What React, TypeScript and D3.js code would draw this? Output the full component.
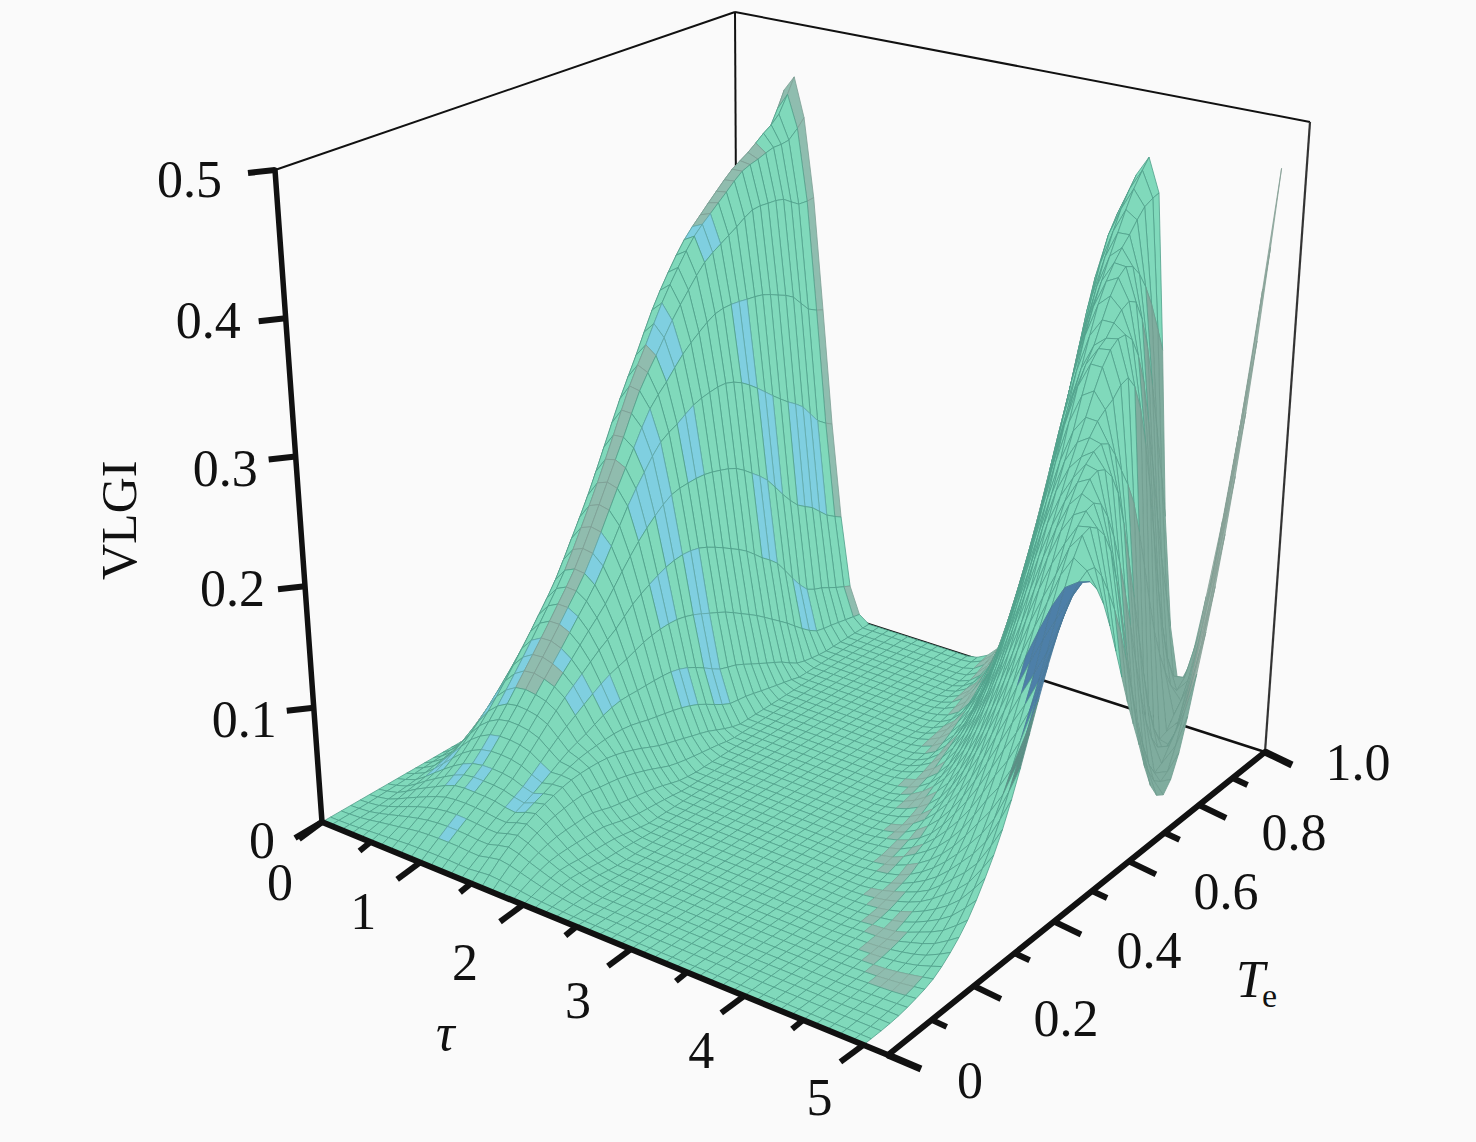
import React from "react";
import * as d3 from "d3";

const tauTicks = [0, 1, 2, 3, 4, 5];
const teTicks = [0, 0.2, 0.4, 0.6, 0.8, 1.0];
const teTickLabels = ["0", "0.2", "0.4", "0.6", "0.8", "1.0"];
const zTicks = [0, 0.1, 0.2, 0.3, 0.4, 0.5];
const zTickLabels = ["0", "0.1", "0.2", "0.3", "0.4", "0.5"];

const teGrid = [0,.04,.08,.12,.16,.2,.24,.28,.32,.36,.4,.44,.48,.52,.56,.6,.64,.68,.72,.76,.8,.84,.88,.92,.96,1];
const tauGrid = [0,.2,.4,.6,.8,1,1.2,1.4,1.6,1.8,2,2.2,2.4,2.6,2.8,3,3.2,3.4,3.6,3.8,4,4.2,4.4,4.6,4.8,5];

const r00 = [0,0,0,0,0,0,0,0,0,0,0,0,0,0,0,0,0,0,0,0,0,0,0,0,0,0];
const r02 = [0,.001,.002,.004,.006,.009,.012,.016,.021,.026,.032,.039,.048,.057,.066,.076,.086,.095,.104,.111,.119,.126,.133,.141,.147,.158];
const r04 = [0,.004,.008,.014,.019,.027,.037,.049,.062,.077,.093,.115,.138,.162,.188,.211,.235,.255,.277,.295,.312,.329,.343,.359,.372,.396];
const r06 = [0,.007,.015,.023,.032,.046,.062,.08,.1,.121,.143,.171,.2,.233,.266,.295,.325,.349,.369,.383,.396,.408,.416,.426,.436,.46];
const r08 = [0,.01,.02,.031,.041,.057,.075,.095,.115,.136,.158,.186,.216,.246,.277,.299,.321,.339,.355,.364,.372,.38,.38,.378,.369,.369];
const r10 = [0,.011,.022,.032,.043,.059,.076,.094,.112,.131,.15,.175,.201,.222,.24,.248,.257,.261,.262,.256,.245,.232,.22,.209,.19,.18];
const r12 = [0,.011,.021,.031,.041,.055,.07,.084,.096,.108,.118,.131,.14,.147,.15,.148,.141,.132,.122,.108,.095,.073,.054,.047,.039,.032];
const r14 = [0,.01,.02,.028,.035,.044,.053,.059,.066,.07,.07,.07,.069,.064,.055,.045,.04,.032,.024,.016,.006,.002,0,0,0,0];
const r16 = [0,.014,.025,.034,.04,.044,.045,.044,.04,.034,.027,.022,.017,.012,.005,0,0,0,0,0,0,0,0,0,0,0];
const r18 = [0,.01,.017,.021,.022,.022,.017,.014,.011,.007,.002,0,0,0,0,0,0,0,0,0,0,0,0,0,0,0];
const r20 = [0,.005,.009,.008,.007,.006,.003,0,0,0,0,0,0,0,0,0,0,0,0,0,0,0,0,0,0,0];
const r22 = [0,.002,.003,.002,0,0,0,0,0,0,0,0,0,0,0,0,0,0,0,0,0,0,0,0,0,0];
const r24 = [0,0,0,0,0,0,0,0,0,0,0,0,0,0,0,0,0,0,0,0,0,0,0,0,0,0];
const r26 = [0,0,0,0,0,0,0,0,0,0,0,0,0,0,0,0,0,0,0,0,0,0,0,0,.003,.007];
const r28 = [0,0,0,0,0,0,0,0,0,0,0,0,0,0,0,0,0,0,0,0,.002,.0045,.008,.012,.022,.034];
const r30 = [0,0,0,0,0,0,0,0,0,0,0,0,0,0,0,0,0,.001,.004,.007,.011,.022,.033,.046,.067,.095];
const r32 = [0,0,0,0,0,0,0,0,0,0,0,0,0,0,0,.003,.006,.009,.017,.028,.04,.06,.087,.114,.149,.191];
const r34 = [0,0,0,0,0,0,0,0,0,0,0,0,.001,.003,.006,.011,.02,.031,.045,.068,.095,.127,.166,.209,.255,.3];
const r36 = [0,0,0,0,0,0,0,0,0,0,.001,.003,.005,.011,.02,.03,.048,.07,.096,.132,.171,.215,.261,.315,.365,.385];
const r38 = [0,0,0,0,0,0,0,0,0,.002,.004,.009,.017,.027,.044,.066,.092,.127,.165,.209,.256,.308,.35,.39,.42,.44];
const r40 = [0,0,0,0,0,0,0,.001,.003,.006,.014,.022,.038,.057,.081,.115,.151,.193,.24,.291,.328,.37,.395,.41,.425,.43];
const r42 = [0,0,0,0,0,.001,.002,.004,.009,.016,.028,.046,.067,.097,.131,.17,.215,.259,.298,.342,.355,.37,.37,.33,.26,.18];
const r44 = [0,0,0,0,.001,.002,.004,.01,.018,.032,.05,.076,.108,.143,.184,.227,.263,.29,.31,.32,.33,.3,.23,.14,.07,.035];
const r46 = [0,0,0,.001,.002,.005,.011,.02,.035,.054,.081,.113,.149,.191,.227,.265,.285,.285,.26,.2,.13,.06,.02,.033,.056,.122];
const r48 = [0,0,.001,.002,.005,.01,.02,.035,.055,.082,.113,.15,.188,.23,.262,.26,.235,.175,.105,.05,.015,.03,.055,.116,.186,.27];
const r50 = [0,0,.001,.004,.009,.02,.036,.06,.09,.13,.175,.215,.24,.24,.215,.17,.12,.075,.03,.012,.04,.1,.166,.248,.346,.465];
const vlgi = [r00,r02,r04,r06,r08,r10,r12,r14,r16,r18,r20,r22,r24,r26,r28,r30,r32,r34,r36,r38,r40,r42,r44,r46,r48,r50];

type P = [number, number];
function quad(p0: P, p1: P, p2: P, p3: P) {
  const dx1 = p1[0] - p2[0], dx2 = p3[0] - p2[0], sx = p0[0] - p1[0] + p2[0] - p3[0];
  const dy1 = p1[1] - p2[1], dy2 = p3[1] - p2[1], sy = p0[1] - p1[1] + p2[1] - p3[1];
  const den = dx1 * dy2 - dx2 * dy1;
  const g = (sx * dy2 - dx2 * sy) / den;
  const h = (dx1 * sy - sx * dy1) / den;
  const a = p1[0] - p0[0] + g * p1[0], b = p3[0] - p0[0] + h * p3[0], c = p0[0];
  const d = p1[1] - p0[1] + g * p1[1], e = p3[1] - p0[1] + h * p3[1], f = p0[1];
  return (u: number, v: number): P => {
    const w = g * u + h * v + 1;
    return [(a * u + b * v + c) / w, (d * u + e * v + f) / w];
  };
}
const A: P = [322, 822], B: P = [888, 1055], C: P = [1265, 752], D: P = [738, 582];
const A2: P = [275, 170], B2: P = [901, 330], C2: P = [1310, 122], D2: P = [735, 12];
const floor = quad(A, B, C, D);
const top = quad(A2, B2, C2, D2);
const tauScale = d3.scaleLinear().domain([0, 5.2]).range([0, 1]);
const teScale = d3.scaleLinear().domain([0, 1]).range([0, 1]);
const zScale = d3.scaleLinear().domain([0, 0.5]).range([0, 1]);
function project(tau: number, te: number, z: number): P {
  const u = tauScale(tau), v = teScale(te);
  const f = zScale(z);
  const s = (f * 0.85) / (1 - 0.15 * f);
  const a = floor(u, v), b = top(u, v);
  return [a[0] + (b[0] - a[0]) * s, a[1] + (b[1] - a[1]) * s];
}

// smooth drawing of the read mesh: a Catmull-Rom curve through each row and column
function smooth(vals: number[]): number[] {
  const out: number[] = [];
  for (let i = 0; i < vals.length - 1; i++) {
    const p0 = vals[Math.max(i - 1, 0)], p1 = vals[i], p2 = vals[i + 1], p3 = vals[Math.min(i + 2, vals.length - 1)];
    out.push(p1, Math.max(0, (-p0 + 9 * p1 + 9 * p2 - p3) / 16));
  }
  out.push(vals[vals.length - 1]);
  return out;
}
const meshByTe: number[][] = vlgi.map(smooth);
const meshCols = d3.range(meshByTe[0].length).map((j) => smooth(meshByTe.map((r) => r[j])));
const fineTau = smooth(tauGrid);
const fineTe = smooth(teGrid);
const zAt = (i: number, j: number) => meshCols[j][i];

// fixed mottling of the facet colours, as in the printed figure
function mottle(i: number, j: number) {
  const s = Math.sin(i * 12.9898 + j * 78.233) * 43758.5453;
  return s - Math.floor(s);
}

const path = d3.line();
function Cells() {
  const out: React.ReactNode[] = [];
  for (let j = fineTe.length - 2; j >= 0; j--) {
    for (let i = 0; i < fineTau.length - 1; i++) {
      const t = fineTau[i], e = fineTe[j];
      const pts: P[] = [
        project(fineTau[i], fineTe[j], zAt(i, j)),
        project(fineTau[i + 1], fineTe[j], zAt(i + 1, j)),
        project(fineTau[i + 1], fineTe[j + 1], zAt(i + 1, j + 1)),
        project(fineTau[i], fineTe[j + 1], zAt(i, j + 1)),
      ];
      const area = d3.polygonArea(pts);
      const back = area < 0;
      const mag = Math.abs(area);
      const zMid = (zAt(i, j) + zAt(i + 1, j + 1)) / 2;
      const fall = zAt(i, j) - zAt(i + 1, j);
      const u = t * (1 + e);
      const m = mottle(i, Math.floor(j / 2));
      let fill = "#80d9bb";
      let stroke = "#4f9f8a";
      if (t >= 4.5 && e >= 0.4 && e < 0.52 && zMid > 0.15) {
        fill = "#4d7fa8"; stroke = "#4a7a9a";
      } else if (t >= 4.5 && e >= 0.34 && e < 0.4 && zMid > 0.11) {
        fill = "#5b8f85"; stroke = "#5b8f85";
      } else if (back) {
        fill = "#7aa899"; stroke = "#6a9a8e";
      } else if (mag < 10) {
        fill = "#8cb8aa"; stroke = "#86ad9f";
      } else if (u >= 9 && e >= 0.72) {
        fill = "#9ab5ab"; stroke = "#87a096";
      } else if (u >= 7.95 && e >= 0.55) {
        fill = "#7fac9e"; stroke = "#6f9c8e";
      } else if (Math.abs(fall) < 0.004 && zMid > 0.09 && e > 0.25 && t < 1.2) {
        fill = "#90bcae"; stroke = "#7f9f95";
      } else if (t >= 2.4 && u >= 5.05 && u < 5.5 && e > 0.1 && m < 0.6) {
        fill = "#8fbdaf"; stroke = "#80a89b";
      } else if (e >= 0.97 && zMid > 0.01 && t < 1.5 && m < 0.6) {
        fill = "#8fbdaf"; stroke = "#7f9f95";
      } else if (zMid > 0.012 && t >= 0.3 && t < 1.6 && e < 0.96 && m < 0.17) {
        fill = "#7fcfe0"; stroke = "#5fa8a8";
      }
      out.push(
        <path key={`${i}-${j}`} d={path(pts) + "Z"} fill={fill} stroke={stroke} strokeWidth={0.8} strokeLinejoin="round" />
      );
    }
  }
  return <g>{out}</g>;
}
const serif = "'Liberation Serif', serif";
const txt = { fontFamily: serif, fontSize: 52, fill: "#111" };
const zDx = [-47, -37, -40, -38, -45, -53];
const zDy = [36, 29, 20, 29, 20, 27];
const tauDx = [-42, -57, -58, -53, -43, -44];
const tauDy = [78, 67, 75, 69, 72, 70];
const teDx = [82, 92, 95, 97, 95, 93];
const teDy = [43, 50, 46, 48, 45, 28];

export default function App() {
  const tauMajor = tauTicks.map((t) => project(t, 0, 0));
  const tauMinor = tauTicks.slice(0, 5).map((t) => project(t + 0.5, 0, 0));
  const teMajor = teTicks.map((t) => project(5.2, t, 0));
  const teMinor = teTicks.slice(0, 5).map((t) => project(5.2, t + 0.1, 0));
  const zMajor = zTicks.map((t) => project(0, 0, t));
  const line = (a: P, b: P, w: number, color = "#111", cap = "butt") => (
    <line x1={a[0]} y1={a[1]} x2={b[0]} y2={b[1]} stroke={color} strokeWidth={w} strokeLinecap={cap as any} />
  );
  return (
    <svg width={1476} height={1142} style={{ position: "fixed", left: 0, top: 0 }}>
      <rect width={1476} height={1142} fill="#fafafa" />
      {line(A2, D2, 2)}
      {line(D2, C2, 2)}
      {line(C2, C, 2.2, "#333")}
      {line(D2, D, 2)}
      {line(D, C, 2.5)}
      <Cells />
      {line(A, A2, 5.5, "#111", "round")}
      {line(A, B, 6, "#111", "round")}
      {line(B, C, 6, "#111", "round")}
      {line(B, [921, 1069], 7)}
      {line(C, [1292, 765], 7)}
      {zMajor.map((p, i) => <g key={i}>{line(p, [p[0] - 27, p[1] + (i === 0 ? 16 : 3)], 6, "#111")}</g>)}
      {tauMajor.map((p, i) => <g key={i}>{line(p, [p[0] - 23, p[1] + 17], 6, "#111")}</g>)}
      {tauMinor.map((p, i) => <g key={i}>{line(p, [p[0] - 11, p[1] + 9], 6, "#111")}</g>)}
      {teMajor.slice(1, 5).map((p, i) => <g key={i}>{line(p, [p[0] + 27, p[1] + 13], 6, "#111")}</g>)}
      {teMinor.map((p, i) => <g key={i}>{line(p, [p[0] + 15, p[1] + 7], 6, "#111")}</g>)}
      {zTickLabels.map((s, i) => (
        <text key={s} x={zMajor[i][0] + zDx[i]} y={zMajor[i][1] + zDy[i]} textAnchor="end" {...txt}>{s}</text>
      ))}
      {tauTicks.map((t, i) => (
        <text key={t} x={tauMajor[i][0] + tauDx[i]} y={tauMajor[i][1] + tauDy[i]} textAnchor="middle" {...txt}>{t}</text>
      ))}
      {teTickLabels.map((s, i) => (
        <text key={s} x={teMajor[i][0] + teDx[i]} y={teMajor[i][1] + teDy[i]} textAnchor="middle" {...txt}>{s}</text>
      ))}
      <text transform="translate(136,580) rotate(-90)" {...txt} fontSize={50}>VLGI</text>
      <text x={436} y={1050} {...txt} fontStyle="italic">τ</text>
      <text x={1236} y={997} {...txt} fontStyle="italic">T</text>
      <text x={1262} y={1007} {...txt} fontSize={34}>e</text>
    </svg>
  );
}
